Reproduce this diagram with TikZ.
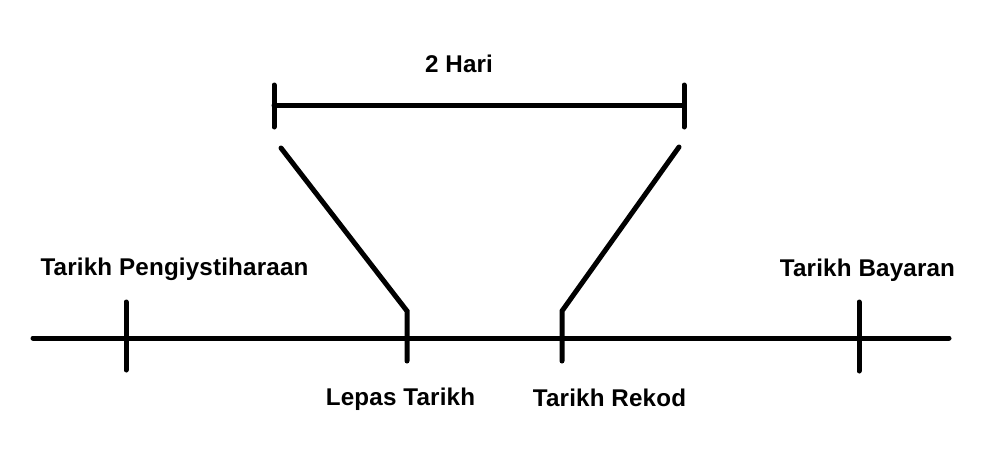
\documentclass[tikz,border=0pt]{standalone}
\usepackage{fontspec}
\setmainfont{Liberation Sans}
\begin{document}
\begin{tikzpicture}[x=1pt,y=-1pt,
  ln/.style={line width=5pt,line cap=round,line join=miter},
  lbl/.style={inner sep=0pt,anchor=base,font=\fontsize{24.2}{28}\selectfont\bfseries\addfontfeature{LetterSpace=0.7}}]
\useasboundingbox (0,0) rectangle (998,460);
% main timeline
\coordinate (L) at (33,338);
\coordinate (R) at (949,338);
\draw[ln] (L) -- (R);
% ticks
\coordinate (t1a) at (126,302); \coordinate (t1b) at (126,370);
\coordinate (t4a) at (859,302); \coordinate (t4b) at (859,371);
\draw[ln] (t1a) -- (t1b);
\draw[ln] (t4a) -- (t4b);
% lepas tarikh
\coordinate (s1) at (281,148); \coordinate (k1) at (407,311); \coordinate (e1) at (407,361);
\draw[ln] (s1) -- (k1) -- (e1);
% tarikh rekod
\coordinate (s2) at (679,147); \coordinate (k2) at (562,311); \coordinate (e2) at (562,361);
\draw[ln] (s2) -- (k2) -- (e2);
% top bar
\coordinate (bl) at (274,105); \coordinate (br) at (684,105);
\draw[ln] (bl) -- (br);
\draw[ln] (274,85) -- (274,127);
\draw[ln] (684,85) -- (684,127);
% labels
\node[lbl] (hari) at (459,73) {2 Hari};
\node[lbl] (peng) at (174.5,275) {Tarikh Pengiystiharaan};
\node[lbl] (bay) at (867.5,276) {Tarikh Bayaran};
\node[lbl] (lepas) at (400.5,405) {Lepas Tarikh};
\node[lbl] (rekod) at (609.5,406) {Tarikh Rekod};
\end{tikzpicture}
\end{document}
